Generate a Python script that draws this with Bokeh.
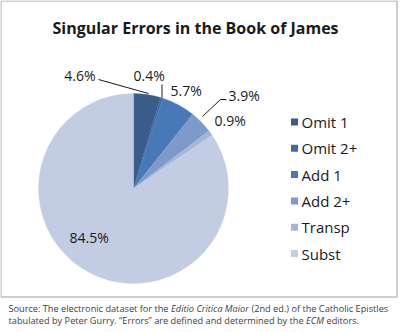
import math
from bokeh.plotting import figure
from bokeh.models import Range1d, ColumnDataSource
from bokeh.core.properties import value
from bokeh.embed import file_html
from bokeh.resources import INLINE

# ---- data ----
categories = ["Omit 1", "Omit 2+", "Add 1", "Add 2+", "Transp", "Subst"]
percents = [4.6, 0.4, 5.7, 3.9, 0.9, 84.5]
colors = ["#3B5D8B", "#3F6BA0", "#4879B7", "#7D9ACB", "#A3B5D8", "#C2CCE3"]
title_text = "Singular Errors in the Book of James"

W, H = 400, 332
FONT = value("Open Sans")

def Y(py):
    return H - py

p = figure(width=W, height=H, output_backend="svg", toolbar_location=None,
           x_range=Range1d(0, W), y_range=Range1d(0, H), min_border=0)
p.axis.visible = False
p.grid.visible = False
p.outline_line_color = None
p.background_fill_color = "white"
p.border_fill_color = "white"

# chart box
p.quad(left=[0.5], right=[396.5], top=[Y(0.5)], bottom=[Y(296.5)],
       fill_color=None, line_color="#BFBFBF", line_width=1.5)

# pie
cx, cy, r = 133, 188, 95
total = sum(percents)
starts, ends = [], []
cum = 0.0
for v in percents:
    starts.append(math.pi / 2 - 2 * math.pi * cum / total)
    cum += v
    ends.append(math.pi / 2 - 2 * math.pi * cum / total)
src = ColumnDataSource(dict(start=starts, end=ends, color=colors))
p.wedge(x=cx, y=Y(cy), radius=r, start_angle="start", end_angle="end",
        direction="clock", fill_color="color", line_color="color", line_width=0.3,
        source=src)

# data labels (layout positions in pixels)
lab_x = [95, 133, 170, 228, 214, 69]
lab_y = [75, 75, 90, 95, 120, 237]
lab_align = ["right", "left", "left", "left", "left", "left"]
labels = [f"{v:.1f}%" for v in percents]
p.text(x=lab_x, y=[Y(v) for v in lab_y], text=labels, text_align=lab_align,
       text_baseline="middle", text_font=FONT, text_font_size="14px",
       text_color="#1a1a1a")

# leader lines
p.segment(x0=[98, 161.5], y0=[Y(79), Y(84)], x1=[148, 161.5], y1=[Y(93), Y(97)],
          line_color="#1a1a1a", line_width=1)
p.line(x=[226, 220, 202], y=[Y(99), Y(99), Y(116)], line_color="#1a1a1a", line_width=1)

# title
p.text(x=[195], y=[Y(27)], text=[title_text], text_align="center",
       text_baseline="middle", text_font=FONT, text_font_size="16px",
       text_font_style="bold", text_color="#1a1a1a")

# legend
leg_y = [121.5 + 26.3 * i for i in range(len(categories))]
p.rect(x=[294] * len(categories), y=[Y(v) for v in leg_y], width=7, height=7,
       fill_color=colors, line_color=None)
p.text(x=[301] * len(categories), y=[Y(v) for v in leg_y], text=categories,
       text_align="left", text_baseline="middle", text_font=FONT,
       text_font_size="15px", text_color="#1a1a1a")

# footer (source note, with italic titles)
fs = "9.2px"
fc = "#404040"
segs = [
    (8, 308, "Source: The electronic dataset for the", "normal"),
    (170.6, 308, "Editio Critica Maior", "italic"),
    (251, 308, "(2nd ed.) of the Catholic Epistles", "normal"),
    (8, 319.5, "tabulated by Peter Gurry. \u201cErrors\u201d are defined and determined by the", "normal"),
    (305.5, 319.5, "ECM", "italic"),
    (326, 319.5, "editors.", "normal"),
]
for sx, sy, st, sty in segs:
    p.text(x=[sx], y=[Y(sy)], text=[st], text_align="left", text_baseline="middle",
           text_font=FONT, text_font_size=fs, text_font_style=sty, text_color=fc)

open("out.html", "w").write(file_html(p, INLINE))
